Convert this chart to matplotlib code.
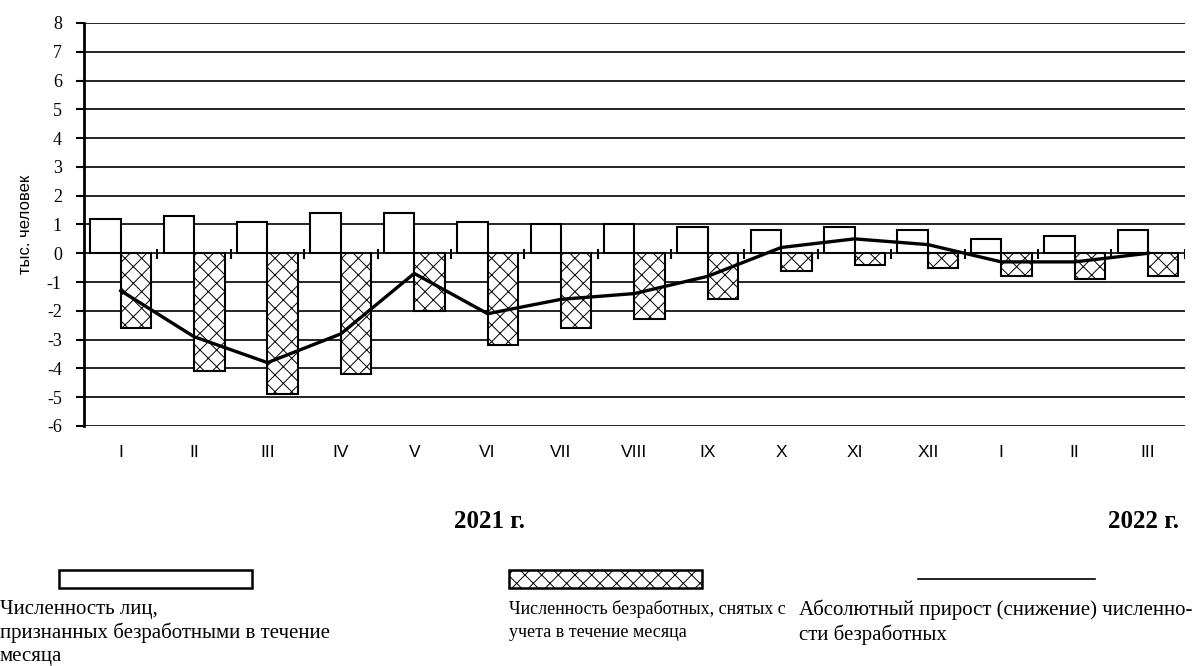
import matplotlib.pyplot as plt
import matplotlib.patches as mpatches
import numpy as np

plt.rcParams['hatch.linewidth'] = 0.7
plt.rcParams['axes.unicode_minus'] = False

months = ['I', 'II', 'III', 'IV', 'V', 'VI', 'VII', 'VIII', 'IX', 'X', 'XI', 'XII', 'I', 'II', 'III']
recognized = [1.2, 1.3, 1.1, 1.4, 1.4, 1.1, 1.0, 1.0, 0.9, 0.8, 0.9, 0.8, 0.5, 0.6, 0.8]
removed = [-2.6, -4.1, -4.9, -4.2, -2.0, -3.2, -2.6, -2.3, -1.6, -0.6, -0.4, -0.5, -0.8, -0.9, -0.8]
net_change = [-1.3, -2.9, -3.8, -2.8, -0.7, -2.1, -1.6, -1.4, -0.8, 0.2, 0.5, 0.3, -0.3, -0.3, 0.0]

SERIF = ['Liberation Serif', 'DejaVu Serif']
SANS = ['Liberation Sans', 'DejaVu Sans']

fig = plt.figure(figsize=(12.04, 6.66), dpi=100)
ax = fig.add_axes([0.0698, 0.3604, 0.9142, 0.6051])

x = np.arange(len(months))
w = 0.415
ax.bar(x - w / 2, recognized, w, color='white', edgecolor='black', linewidth=1.5, zorder=3)
ax.bar(x + w / 2, removed, w, color='white', edgecolor='black', linewidth=1.5,
       hatch='xx', zorder=3)
ax.plot(x, net_change, color='black', linewidth=2.4, zorder=4)

# small category separators on the zero line
ax.vlines(x + 0.5, -0.2, 0.15, color='black', linewidth=1.5, zorder=4)

ax.set_xlim(-0.5, len(months) - 0.5)
ax.set_ylim(-6, 8)
ax.set_yticks(range(-6, 9))
ax.grid(True, axis='y', color='black', linewidth=1.2, zorder=0)
for s in ['top', 'right', 'bottom']:
    ax.spines[s].set_visible(False)
ax.spines['left'].set_linewidth(2)
ax.tick_params(axis='y', direction='out', length=6, width=1.5, labelsize=13, pad=10)
for lab in ax.get_yticklabels():
    lab.set_family(SERIF)
ax.set_xticks(x)
ax.set_xticklabels(months, family=SANS, fontsize=12.5)
ax.tick_params(axis='x', length=0, pad=14)
ax.set_ylabel('тыс. человек', family=SANS, fontsize=12, labelpad=10)


def fx(px):
    return px / 1204


def fy(py):
    return 1 - py / 666


fig.text(fx(490), fy(522), '2021 г.', family=SERIF, fontsize=18,
         fontweight='bold', ha='center', va='center')
fig.text(fx(1143), fy(522), '2022 г.', family=SERIF, fontsize=18,
         fontweight='bold', ha='center', va='center')

# legend
fig.patches.append(mpatches.Rectangle((fx(59), fy(588)), fx(252) - fx(59), fy(570) - fy(588),
                                      transform=fig.transFigure, facecolor='white',
                                      edgecolor='black', linewidth=1.8))
fig.patches.append(mpatches.Rectangle((fx(509), fy(588)), fx(702) - fx(509), fy(570) - fy(588),
                                      transform=fig.transFigure, facecolor='white',
                                      edgecolor='black', linewidth=1.8, hatch='xx'))
fig.lines.append(plt.Line2D([fx(918), fx(1095)], [fy(579), fy(579)],
                            transform=fig.transFigure, color='black', linewidth=1.2))

legend_texts = [
    (0, 'Численность лиц,\nпризнанных безработными в течение\nмесяца', 15),
    (509, 'Численность безработных, снятых с\nучета в течение месяца', 13),
    (799, 'Абсолютный прирост (снижение) численно-\nсти безработных', 15),
]
for px, t, fs in legend_texts:
    fig.text(fx(px), fy(600), t, family=SERIF, fontsize=fs, ha='left', va='top',
             linespacing=1.25 * 15 / fs)

fig.savefig('out.png', dpi=100, facecolor='white')
